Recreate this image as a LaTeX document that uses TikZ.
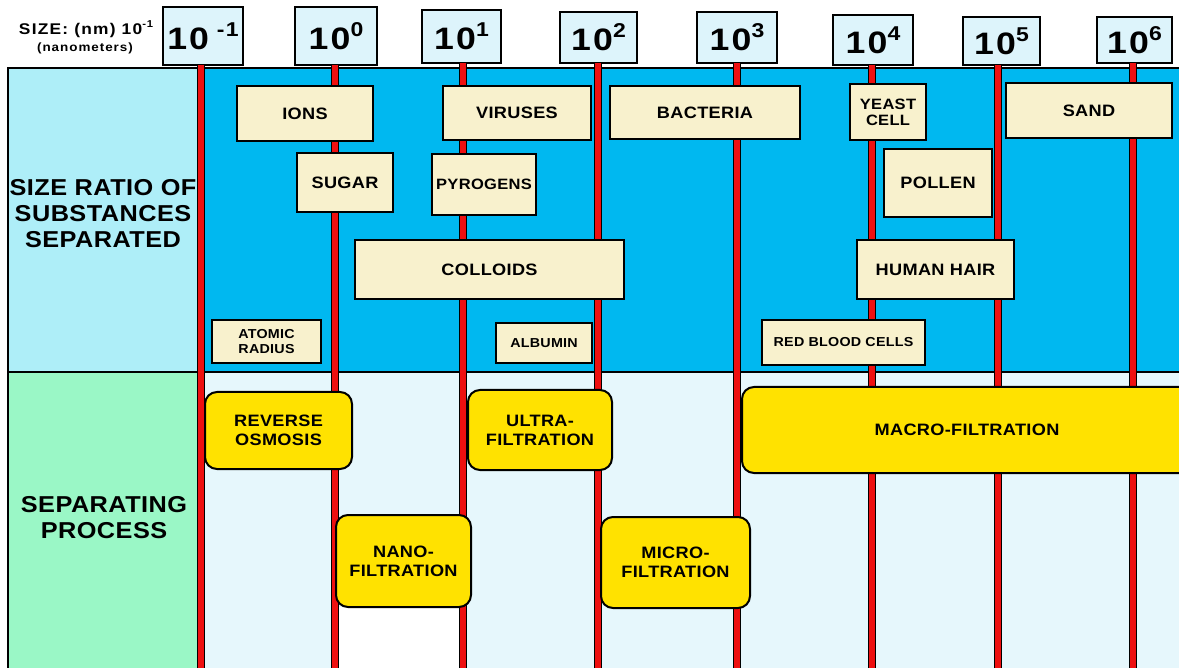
\documentclass[tikz,border=0pt]{standalone}
\usepackage{fontspec}
\setmainfont{Liberation Sans}[FakeStretch=1.1, LetterSpace=2]
\newfontfamily\hdrfont{Liberation Sans}[FakeStretch=1.15, LetterSpace=7]
\newfontfamily\lblfont{Liberation Sans}[FakeStretch=1.12, LetterSpace=8]
\definecolor{hdrfill}{HTML}{DDF4FB}
\definecolor{topleft}{HTML}{AEEEF8}
\definecolor{topright}{HTML}{00B8F0}
\definecolor{botleft}{HTML}{9AF7C6}
\definecolor{botright}{HTML}{E6F7FC}
\definecolor{cream}{HTML}{F8F1CD}
\definecolor{procyellow}{HTML}{FFE200}
\definecolor{linered}{HTML}{EE1010}
\tikzset{
  hdrbox/.style={draw=black, line width=2pt, fill=hdrfill, inner sep=0pt, outer sep=0pt, font=\hdrfont\bfseries\fontsize{31}{31}\selectfont},
  redline/.style={draw=black, line width=0.8pt, double=linered, double distance=6pt},
  sizebox/.style={draw=black, line width=2pt, fill=cream, inner sep=0pt, outer sep=0pt, align=center, font=\bfseries\fontsize{16.5}{19}\selectfont},
  smallbox/.style={sizebox, font=\bfseries\fontsize{13}{15}\selectfont},
  procbox/.style={draw=black, line width=2pt, fill=procyellow, rounded corners=12pt, inner sep=0pt, outer sep=0pt, align=center, font=\bfseries\fontsize{16.5}{19}\selectfont},
  sidelabel/.style={align=center, font=\bfseries\fontsize{23}{26}\selectfont}
}
\newcommand{\pw}[1]{10\raisebox{0.42em}{\fontsize{20}{20}\selectfont #1}}
\begin{document}
\begin{tikzpicture}[x=1pt,y=-1pt]
\useasboundingbox (0,0) rectangle (1179,668);
\begin{scope}
\clip (0,0) rectangle (1179,668);
% backgrounds
\fill[white] (0,0) rectangle (1179,668);
\fill[topleft] (8,68) rectangle (198,372);
\fill[topright] (198,68) rectangle (1190,372);
\fill[botleft] (8,372) rectangle (198,680);
\fill[botright] (198,372) rectangle (1190,680);
\fill[white] (339,607) rectangle (460,680);
\draw[line width=2pt] (8,680) -- (8,68) -- (1190,68);
\draw[line width=1.5pt] (8,372) -- (1190,372);
\draw[line width=1pt] (198,68) -- (198,680);
% header labels
\node[font=\lblfont\bfseries\fontsize{15.5}{15.5}\selectfont] (sizelbl) at (86,29) {SIZE: (nm) 10\raisebox{0.45em}{\fontsize{10}{10}\selectfont -1}};
\node[font=\lblfont\bfseries\fontsize{12}{12}\selectfont] (nmlbl) at (85,48) {(nanometers)};
\node[hdrbox, minimum width=80pt, minimum height=58pt] (h0) at (203,36) {\pw{ -1}};
\node[hdrbox, minimum width=82pt, minimum height=58pt] (h1) at (336,36) {\pw{0}};
\node[hdrbox, minimum width=79pt, minimum height=53pt] (h2) at (461.5,36.5) {\pw{1}};
\node[hdrbox, minimum width=77pt, minimum height=51pt] (h3) at (598.5,37.5) {\pw{2}};
\node[hdrbox, minimum width=80pt, minimum height=51pt] (h4) at (737,37.5) {\pw{3}};
\node[hdrbox, minimum width=80pt, minimum height=50pt] (h5) at (873,40) {\pw{4}};
\node[hdrbox, minimum width=77pt, minimum height=48pt] (h6) at (1001.5,41) {\pw{5}};
\node[hdrbox, minimum width=75pt, minimum height=46pt] (h7) at (1134.5,40) {\pw{6}};
% red lines
\coordinate (b0) at (201,675);
\coordinate (b1) at (335,675);
\coordinate (b2) at (463,675);
\coordinate (b3) at (598,675);
\coordinate (b4) at (737,675);
\coordinate (b5) at (872,675);
\coordinate (b6) at (998,675);
\coordinate (b7) at (1133,675);
\foreach \i in {0,...,7} {\draw[redline] (h\i.south -| b\i) -- (b\i);}
% side labels
\node[sidelabel] (sizeratio) at (103,214) {SIZE RATIO OF\\SUBSTANCES\\SEPARATED};
\node[sidelabel] (sepproc) at (104,518) {SEPARATING\\PROCESS};
% size boxes
\node[sizebox, minimum width=136pt, minimum height=55pt] (ions) at (305,113.5) {IONS};
\node[sizebox, minimum width=148pt, minimum height=54pt] (viruses) at (517,113) {VIRUSES};
\node[sizebox, minimum width=190pt, minimum height=53pt] (bacteria) at (705,112.5) {BACTERIA};
\node[sizebox, minimum width=76pt, minimum height=56pt, font=\bfseries\fontsize{15}{16}\selectfont] (yeast) at (888,112) {YEAST\\CELL};
\node[sizebox, minimum width=166pt, minimum height=55pt] (sand) at (1089,110.5) {SAND};
\node[sizebox, minimum width=96pt, minimum height=59pt] (sugar) at (345,182.5) {SUGAR};
\node[sizebox, minimum width=104pt, minimum height=61pt, font=\bfseries\fontsize{15}{17}\selectfont] (pyrogens) at (484,184.5) {PYROGENS};
\node[sizebox, minimum width=108pt, minimum height=68pt] (pollen) at (938,183) {POLLEN};
\node[sizebox, minimum width=269pt, minimum height=59pt] (colloids) at (489.5,269.5) {COLLOIDS};
\node[sizebox, minimum width=157pt, minimum height=59pt] (hair) at (935.5,269.5) {HUMAN HAIR};
\node[smallbox, minimum width=109pt, minimum height=43pt] (atomic) at (266.5,341.5) {ATOMIC\\RADIUS};
\node[smallbox, minimum width=96pt, minimum height=40pt] (albumin) at (544,343) {ALBUMIN};
\node[smallbox, minimum width=163pt, minimum height=45pt] (rbc) at (843.5,342.5) {RED BLOOD CELLS};
% process boxes
\node[procbox, minimum width=147pt, minimum height=77pt] (ro) at (278.5,430.5) {REVERSE\\OSMOSIS};
\node[procbox, minimum width=144pt, minimum height=80pt] (uf) at (540,430) {ULTRA-\\FILTRATION};
\node[procbox, minimum width=450pt, minimum height=86pt, text width=300pt] (macro) at (967,430) {MACRO-FILTRATION};
\node[procbox, minimum width=135pt, minimum height=92pt] (nano) at (403.5,561) {NANO-\\FILTRATION};
\node[procbox, minimum width=149pt, minimum height=91pt] (micro) at (675.5,562.5) {MICRO-\\FILTRATION};
\end{scope}
\end{tikzpicture}
\end{document}
